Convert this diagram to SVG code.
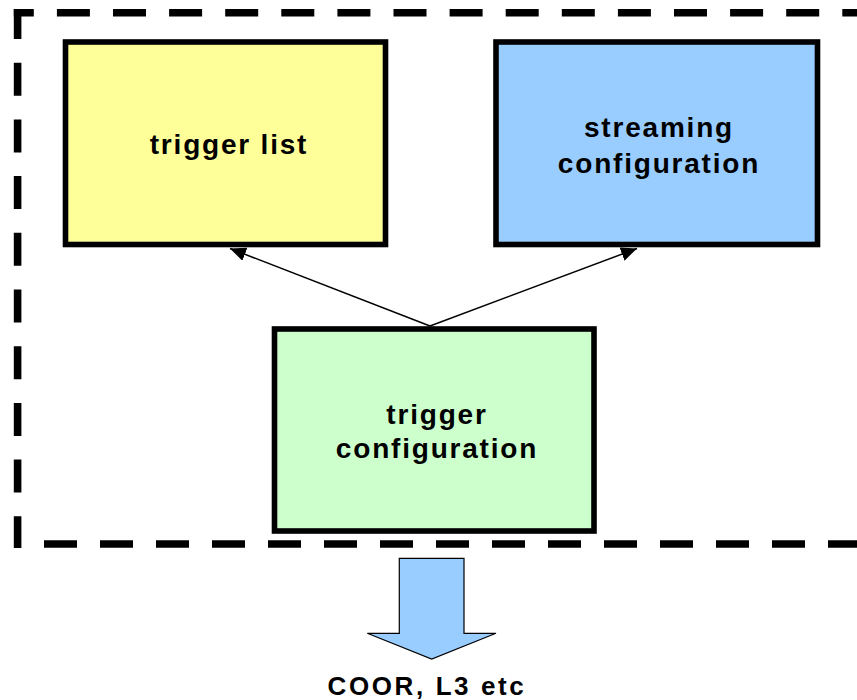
<svg xmlns="http://www.w3.org/2000/svg" width="857" height="700" viewBox="0 0 857 700">
<style>
.frame{fill:none;stroke:#000;stroke-width:7.6}
.box{stroke:#000;stroke-width:5.6}
.lbl{font-family:"Liberation Sans",Arial,sans-serif;font-weight:bold;font-size:28px;letter-spacing:1.8px;text-anchor:middle;fill:#000}
.conn{stroke:#000;stroke-width:1.5;fill:none}
</style>
<defs>
<marker id="ah" viewBox="0 0 16 14" markerWidth="16" markerHeight="14" refX="16" refY="7" orient="auto" markerUnits="userSpaceOnUse">
<path d="M0,0 L16,7 L0,14 Z" fill="#000"/>
</marker>
</defs>
<g id="frame">
<path class="frame" d="M13.8,12.8 H870" stroke-dasharray="33 23.1" stroke-dashoffset="13"/>
<path class="frame" d="M17.6,9 V548" stroke-dasharray="33 23.7" stroke-dashoffset="3"/>
<path class="frame" d="M14,544 H870" stroke-dasharray="33 23" stroke-dashoffset="26"/>
</g>
<g id="connectors">
<line class="conn" x1="430" y1="326" x2="230" y2="248.5" marker-end="url(#ah)"/>
<line class="conn" x1="430" y1="326" x2="637" y2="248.5" marker-end="url(#ah)"/>
</g>
<g id="trigger-list">
<rect class="box" x="65.5" y="42" width="320" height="202.5" fill="#ffff99"/>
<text class="lbl" x="229" y="154">trigger list</text>
</g>
<g id="streaming-configuration">
<rect class="box" x="496" y="42" width="321.5" height="202.5" fill="#99ccff"/>
<text class="lbl" x="659" y="137">streaming</text>
<text class="lbl" x="659" y="173">configuration</text>
</g>
<g id="trigger-configuration">
<rect class="box" x="274.5" y="329" width="319.5" height="202" fill="#ccffcc"/>
<text class="lbl" x="437" y="424">trigger</text>
<text class="lbl" x="437" y="458">configuration</text>
</g>
<g id="output-arrow">
<path d="M399.3,558.3 H464 V633.3 H496 L431.7,659 L367.3,633.3 H399.3 Z" fill="#99ccff" stroke="#000" stroke-width="1.2"/>
<text class="lbl" x="427" y="695" style="font-size:26px;letter-spacing:2.6px">COOR, L3 etc</text>
</g>
</svg>
